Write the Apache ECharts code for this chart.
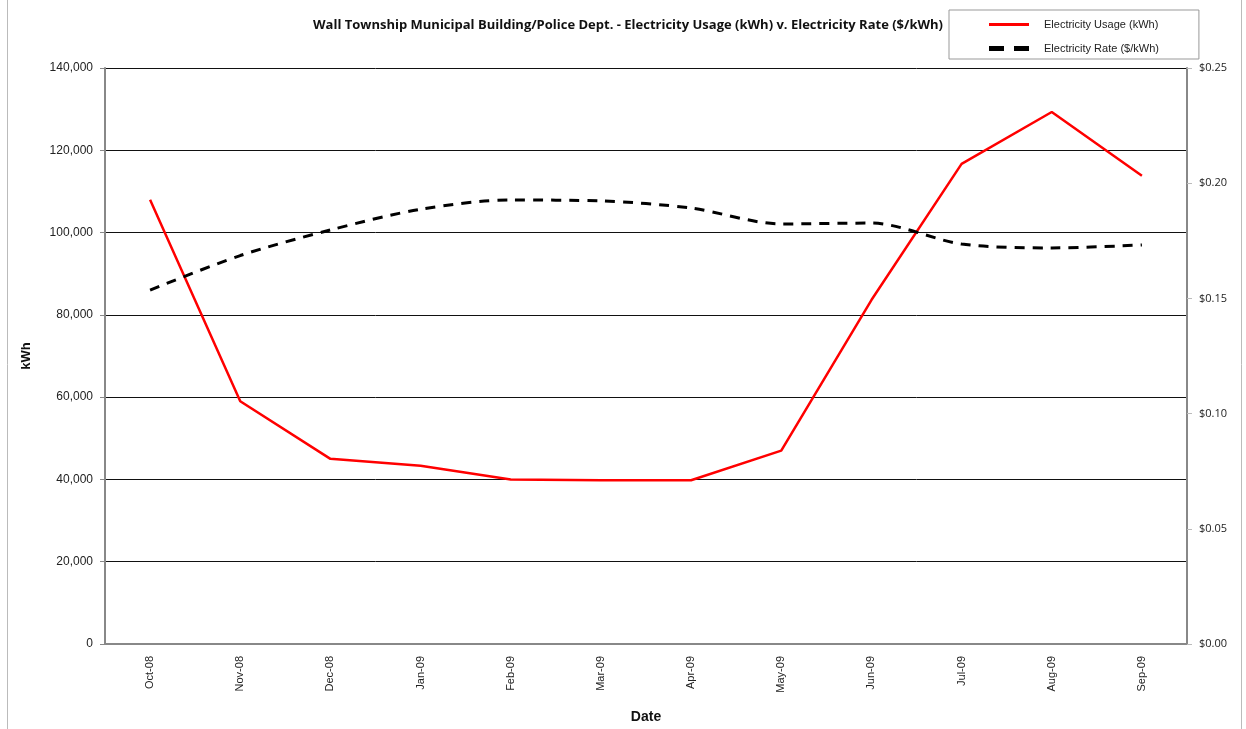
<!DOCTYPE html>
<html>
<head>
<meta charset="utf-8">
<script src="https://cdn.jsdelivr.net/npm/echarts@6/dist/echarts.min.js"></script>
<style>
  html, body { margin: 0; padding: 0; background: #fff; }
  #chart { width: 1246px; height: 729px; }
</style>
</head>
<body>
<div id="chart"></div>
<script>
// months on the x axis
var months = ['Oct-08', 'Nov-08', 'Dec-08', 'Jan-09', 'Feb-09', 'Mar-09',
  'Apr-09', 'May-09', 'Jun-09', 'Jul-09', 'Aug-09', 'Sep-09']
// kWh used each month
var usage = [108000, 59000, 45000, 43300, 40000, 39800,
  39800, 47000, 83600, 116700, 129300, 113800]
// $/kWh each month
var rate = [0.1536, 0.1686, 0.1797, 0.1887, 0.1927, 0.1923,
  0.1892, 0.1823, 0.1827, 0.1736, 0.1719, 0.1732]

var myChart = echarts.init(document.getElementById('chart'))

var axisTxt = { color: '#222', fontFamily: 'Liberation Sans', fontSize: 12 }

var option = {
  animation: false,
  title: {
    text: 'Wall Township Municipal Building/Police Dept. - Electricity Usage (kWh) v. Electricity Rate ($/kWh)',
    left: 623,
    textAlign: 'center',
    top: 14,
    textStyle: { fontFamily: 'Open Sans', fontSize: 13, fontWeight: 'bold', color: '#111' }
  },
  legend: {
    orient: 'vertical',
    left: 949,
    top: 10,
    width: 249,
    padding: [9, 40, 5, 40],
    itemGap: 13,
    itemWidth: 40,
    itemHeight: 8,
    backgroundColor: '#fff',
    borderColor: '#999',
    borderWidth: 1,
    textStyle: { fontFamily: 'Liberation Sans', fontSize: 11, color: '#222', padding: [0, 0, 0, 10] },
    data: [
      { name: 'Electricity Usage (kWh)', icon: 'path://M0,0 H40 V3 H0 Z' },
      { name: 'Electricity Rate ($/kWh)', icon: 'path://M0,0 H12 V4 H0 Z M20,0 H32 V4 H20 Z' }
    ]
  },
  grid: { left: 105, right: 59, top: 68, bottom: 85 },
  xAxis: {
    type: 'category',
    data: months,
    boundaryGap: true,
    name: 'Date',
    nameLocation: 'middle',
    nameGap: 66,
    nameTextStyle: { fontFamily: 'Liberation Sans', fontSize: 14, fontWeight: 'bold', color: '#111' },
    axisLine: { lineStyle: { color: '#888', width: 2 } },
    axisTick: { show: false },
    axisLabel: Object.assign({}, axisTxt, { rotate: 90, fontSize: 11, margin: 12, interval: 0 })
  },
  yAxis: [
    {
      type: 'value',
      min: 0,
      max: 140000,
      interval: 20000,
      name: 'kWh',
      nameLocation: 'middle',
      nameGap: 72,
      nameTextStyle: { fontFamily: 'Liberation Sans', fontSize: 13, fontWeight: 'bold', color: '#111' },
      axisLine: { show: true, lineStyle: { color: '#888', width: 2 } },
      axisTick: { show: true, length: 5, lineStyle: { color: '#888' } },
      axisLabel: Object.assign({}, axisTxt, {
        margin: 12,
        formatter: function (v) { return v.toLocaleString('en-US') }
      }),
      splitLine: { lineStyle: { color: '#111', width: 1 } }
    },
    {
      type: 'value',
      min: 0,
      max: 0.25,
      interval: 0.05,
      axisLine: { show: true, lineStyle: { color: '#888', width: 2 } },
      axisTick: { show: true, length: 5, lineStyle: { color: '#bbb' } },
      axisLabel: Object.assign({}, axisTxt, {
        fontFamily: 'Open Sans',
        fontSize: 11,
        margin: 12,
        formatter: function (v) { return '$' + v.toFixed(2) }
      }),
      splitLine: { show: false }
    }
  ],
  series: [
    {
      name: 'Electricity Usage (kWh)',
      type: 'line',
      yAxisIndex: 0,
      data: usage,
      symbol: 'none',
      itemStyle: { color: '#ff0000' },
      lineStyle: { color: '#ff0000', width: 2.5 }
    },
    {
      name: 'Electricity Rate ($/kWh)',
      type: 'line',
      yAxisIndex: 1,
      data: rate,
      smooth: 0.3,
      symbol: 'none',
      itemStyle: { color: '#000' },
      lineStyle: { color: '#000', width: 3, type: [10, 8] }
    }
  ],
  graphic: [
    { type: 'line', shape: { x1: 7.5, y1: 0, x2: 7.5, y2: 729 }, style: { stroke: '#bbb', lineWidth: 1 } },
    { type: 'line', shape: { x1: 1241.5, y1: 0, x2: 1241.5, y2: 729 }, style: { stroke: '#bbb', lineWidth: 1 } }
  ]
}

myChart.setOption(option)

window.onresize = () => {
  myChart.resize()
}
</script>
</body>
</html>
